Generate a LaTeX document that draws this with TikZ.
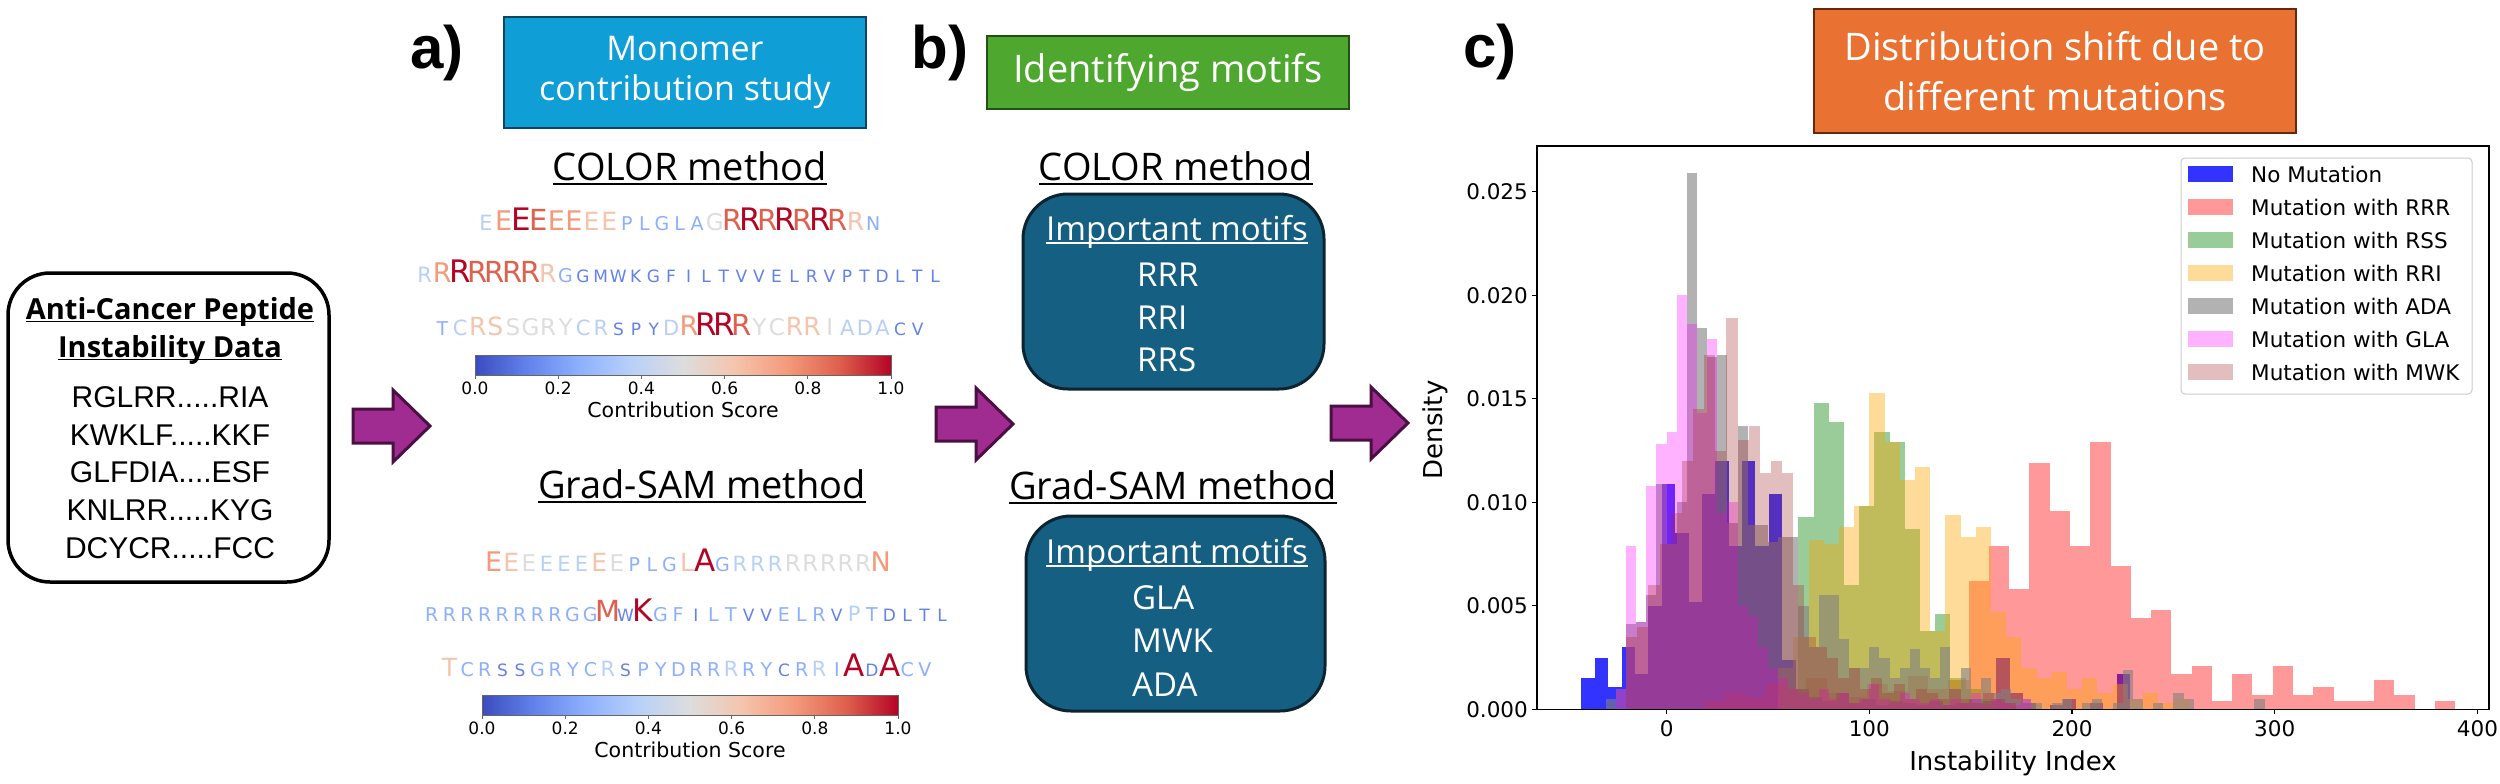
\documentclass[tikz,border=0pt]{standalone}
\usepackage{fontspec}
\setmainfont{Open Sans}
\newfontfamily\plotfont{DejaVu Sans}
\newfontfamily\arialfont{Liberation Sans}
\usepackage{tikz}
\usetikzlibrary{positioning}
% coolwarm colour map, nine stops
\definecolor{cw0}{RGB}{59,76,192}
\definecolor{cw1}{RGB}{98,130,234}
\definecolor{cw2}{RGB}{141,176,254}
\definecolor{cw3}{RGB}{184,208,249}
\definecolor{cw4}{RGB}{221,221,221}
\definecolor{cw5}{RGB}{245,196,173}
\definecolor{cw6}{RGB}{244,154,123}
\definecolor{cw7}{RGB}{222,96,77}
\definecolor{cw8}{RGB}{180,4,38}
\definecolor{boxblue}{RGB}{15,158,213}
\definecolor{boxblueedge}{RGB}{10,70,95}
\definecolor{boxgreen}{RGB}{78,167,46}
\definecolor{boxgreenedge}{RGB}{35,80,20}
\definecolor{boxorange}{RGB}{233,113,50}
\definecolor{boxorangeedge}{RGB}{100,40,10}
\definecolor{motifblue}{RGB}{21,96,130}
\definecolor{motifedge}{RGB}{12,35,48}
\definecolor{arrowfill}{RGB}{160,43,145}
\definecolor{arrowedge}{RGB}{74,16,66}
\definecolor{mplblue}{RGB}{0,0,255}
\definecolor{mplred}{RGB}{255,0,0}
\definecolor{mplgreen}{RGB}{0,128,0}
\definecolor{mplorange}{RGB}{255,165,0}
\definecolor{mplgray}{RGB}{128,128,128}
\definecolor{mplmagenta}{RGB}{255,0,255}
\definecolor{mplbrown}{RGB}{165,42,42}
\pgfdeclarehorizontalshading{coolwarm}{100bp}{color(0bp)=(cw0); color(25bp)=(cw0);
  color(31.25bp)=(cw1); color(37.5bp)=(cw2); color(43.75bp)=(cw3); color(50bp)=(cw4);
  color(56.25bp)=(cw5); color(62.5bp)=(cw6); color(68.75bp)=(cw7); color(75bp)=(cw8);
  color(100bp)=(cw8)}
\newcommand{\uln}[1]{\setbox0=\hbox{#1}\rlap{\rule[-0.12em]{\wd0}{0.045em}}\box0}
% one residue per slot, size and colour from its score level
\newcommand{\seqline}[4]{%
  \foreach \c/\s [count=\i from 0, evaluate=\s as \fs using 15+2*\s] in {#4}
    {\node[seqchar, text=cw\s, font={\plotfont\fontsize{\fs}{\fs}\selectfont}] (#1-\i) at ({#2+\i*17.6},#3) {\c};}}
\newcommand{\histbars}[4]{%
  \foreach \h [count=\i from 0] in {#4}
    {\fill[#1] ({#2+\i*#3},0) rectangle ++(#3,\h);}}
\tikzset{
  tagtext/.style={anchor=base, inner sep=0, font=\arialfont\bfseries\fontsize{60}{60}\selectfont},
  headbox/.style={rectangle, line width=2.5pt, text=white, align=center, inner sep=0},
  methodhead/.style={anchor=base, inner sep=0, font=\fontsize{38}{44}\selectfont},
  databox/.style={rectangle, draw=black, line width=3.5pt, rounded corners=42pt, fill=white},
  datatitle/.style={anchor=base, inner sep=0, font=\bfseries\fontsize{29}{34}\selectfont},
  rawseq/.style={anchor=base, inner sep=0, font=\arialfont\fontsize{30}{34}\selectfont},
  seqchar/.style={anchor=base, inner sep=0},
  motifbox/.style={rectangle, draw=motifedge, fill=motifblue, line width=3pt, rounded corners=45pt},
  motiftitle/.style={anchor=base, inner sep=0, text=white, font=\fontsize{33}{40}\selectfont},
  motifitem/.style={anchor=west, inner sep=0, text=white, font=\fontsize{33}{40}\selectfont},
  arrowbody/.style={fill=arrowfill, draw=arrowedge, line width=3pt, line join=miter},
  fatarrow/.pic={\draw[arrowbody] (0,-17) -- (40,-17) -- (40,-36) -- (77,0) -- (40,36) -- (40,17) -- (0,17) -- cycle;},
  cbframe/.style={draw=black!60, line width=1pt},
  cbtick/.style={anchor=north, inner sep=0, font=\plotfont\fontsize{17}{20}\selectfont},
  cblabel/.style={inner sep=0, font=\plotfont\fontsize{20.5}{24}\selectfont}
}
\begin{document}
\begin{tikzpicture}[x=1pt, y=-1pt,
  axisframe/.style={draw=black, line width=1.2pt},
  axtick/.style={inner sep=0, font=\plotfont\fontsize{21.5}{24}\selectfont},
  axlabel/.style={inner sep=0, font=\plotfont\fontsize{26}{30}\selectfont},
  legtext/.style={anchor=west, inner sep=0, font=\plotfont\fontsize{21.5}{24}\selectfont},
  hblue/.style={fill=mplblue, fill opacity=0.8},
  hred/.style={fill=mplred, fill opacity=0.4},
  hgreen/.style={fill=mplgreen, fill opacity=0.4},
  horange/.style={fill=mplorange, fill opacity=0.4},
  hgray/.style={fill=mplgray, fill opacity=0.6},
  hmagenta/.style={fill=mplmagenta, fill opacity=0.3},
  hbrown/.style={fill=mplbrown, fill opacity=0.3}
]
\fill[white] (0,0) rectangle (2500,784);
\useasboundingbox (0,0) rectangle (2500,784);

% Input data
\node[databox, minimum width=321, minimum height=309] (data) at (168.5,427.5) {};
\node[datatitle] (dt1) at (170,319) {\uln{Anti-Cancer Peptide}};
\node[datatitle] (dt2) at (170,357) {\uln{Instability Data}};
\node[rawseq] (raw-1) at (170,407.5) {RGLRR.....RIA};
\node[rawseq] (raw-2) at (170,445.2) {KWKLF.....KKF};
\node[rawseq] (raw-3) at (170,482.9) {GLFDIA....ESF};
\node[rawseq] (raw-4) at (170,520.6) {KNLRR.....KYG};
\node[rawseq] (raw-5) at (170,558.3) {DCYCR.....FCC};

% Arrows
\pic at (353,426) {fatarrow};
\pic at (936,424) {fatarrow};
\pic at (1331,423) {fatarrow};

% Panel a
\node[tagtext] (taga) at (437,68) {a)};
\node[headbox, fill=boxblue, draw=boxblueedge, minimum width=362, minimum height=111,
  font=\fontsize{34}{40}\selectfont] (hda) at (685,72.5) {Monomer\\contribution study};
\node[methodhead] (colA) at (690,180) {\uln{COLOR method}};
\seqline{cA}{486}{230}{E/3,E/6,E/8,E/7,E/6,E/6,E/5,E/5,P/2,L/2,G/2,L/2,A/2,G/4,R/7,R/8,R/7,R/8,R/7,R/8,R/7,R/5,N/2}
\seqline{cB}{424.6}{282}{R/3,R/6,R/8,R/7,R/7,R/7,R/7,R/5,G/2,G/1,M/1,W/1,K/1,G/1,F/1,I/1,L/1,T/1,V/1,V/1,E/1,L/1,R/1,V/1,P/1,T/1,D/1,L/1,T/1,L/1}
\seqline{cC}{442.5}{335}{T/2,C/3,R/5,S/5,S/4,G/4,R/4,Y/4,C/3,R/3,S/1,P/1,Y/1,D/3,R/6,R/8,R/8,R/7,Y/4,C/4,R/5,R/5,I/4,A/3,D/3,A/3,C/1,V/1}
\node[methodhead] (gsA) at (702,498) {\uln{Grad-SAM method}};
\seqline{gA}{493.6}{571}{E/6,E/5,E/4,E/3,E/3,E/3,E/5,E/4,P/2,L/2,G/2,L/5,A/8,G/2,R/3,R/3,R/3,R/4,R/4,R/4,R/4,R/4,N/6}
\seqline{gB}{431.8}{621}{R/2,R/2,R/2,R/2,R/2,R/2,R/2,R/2,G/2,G/2,M/7,W/1,K/8,G/2,F/2,I/1,L/2,T/2,V/1,V/1,E/2,L/2,R/2,V/1,P/3,T/2,D/1,L/1,T/1,L/1}
\seqline{gC}{449.6}{676}{T/5,C/2,R/2,S/1,S/1,G/2,R/2,Y/2,C/2,R/3,S/1,P/2,Y/2,D/2,R/2,R/2,R/3,R/2,Y/2,C/1,R/2,R/3,I/2,A/8,D/1,A/8,C/2,V/2}

% Colour bars
\foreach \bx/\by/\nm in {475/355/cbA,482/695/cbB}{
  \shade[shading=coolwarm] (\bx,\by) rectangle ++(416,20);
  \draw[cbframe] (\bx,\by) rectangle ++(416,20);
  \foreach \t [count=\k from 0] in {0.0,0.2,0.4,0.6,0.8,1.0}{
    \draw[cbframe] ({\bx+416*\t},\by+20) -- ++(0,4);
    \node[cbtick] (\nm-\k) at ({\bx+416*\t},\by+27) {\t};
  }
  \node[cblabel] (\nm-label) at (\bx+208,\by+55) {Contribution Score};
}

% Panel b
\node[tagtext] (tagb) at (940,68) {b)};
\node[headbox, fill=boxgreen, draw=boxgreenedge, minimum width=362, minimum height=73,
  font=\fontsize{38}{44}\selectfont] (hdb) at (1168,72.5) {Identifying motifs};
\node[methodhead] (colB) at (1176,180) {\uln{COLOR method}};
\node[motifbox, minimum width=301, minimum height=195] (mbA) at (1173.5,291.5) {};
\node[motiftitle] (mtA) at (1177,240) {\uln{Important motifs}};
\node[motifitem] (mA-1) at (1137,275) {RRR};
\node[motifitem] (mA-2) at (1137,318) {RRI};
\node[motifitem] (mA-3) at (1137,360) {RRS};
\node[methodhead] (gsB) at (1173,499) {\uln{Grad-SAM method}};
\node[motifbox, minimum width=299, minimum height=195] (mbB) at (1175.5,613.5) {};
\node[motiftitle] (mtB) at (1177,563) {\uln{Important motifs}};
\node[motifitem] (mB-1) at (1132,598) {GLA};
\node[motifitem] (mB-2) at (1132,641) {MWK};
\node[motifitem] (mB-3) at (1132,685) {ADA};

% Panel c
\node[tagtext] (tagc) at (1490,67) {c)};
\node[headbox, fill=boxorange, draw=boxorangeedge, minimum width=482, minimum height=124,
  font=\fontsize{38}{50}\selectfont] (hdc) at (2055,71) {Distribution shift due to\\different mutations};

\begin{scope}[shift={(1666.6,709.3)}, x=2.027pt, y=20.7pt]
\histbars{hblue}{-42}{6.6}{1.5,2.5,1.1,3.0,1.7,5.0,10.9,8.5,5.2,10.4,12.0,7.9,12.0,7.9,10.4,2.4,1.0,0.6,0.4,0.8,0.3,0.5,0.2,0.4,0.3,0.2,0.4,0.2,0.3,0.5,0.4,2.5,0.8,0.3,0,0.2,0.5,0,0.3,0,1.7}
\histbars{hred}{19}{10}{0.4,0.8,0.6,1.2,1.0,1.5,0.8,0.6,1.2,0.9,1.6,1.0,1.4}
\histbars{hred}{149}{10}{6.2,7.9,5.8,11.9,9.6,7.9,12.9,6.9,4.4,4.8,1.7,2.1,0.4,1.7,0.7,2.1,0.7,1.1,0.4,0.4,1.4,0.7,0,0.4}
\histbars{hgreen}{57.5}{7.5}{1.0,9.3,14.8,13.9,6.0,9.8,13.4,12.9,8.7,3.8,4.6,1.5,1.0,0.5}
\histbars{horange}{55}{7.5}{2.0,3.5,8.2,8.0,8.8,9.8,15.3,12.9,11.1,11.7,3.8,9.4,8.3,8.8,4.7,3.5,2.0,1.5,1.8,1.0,1.5,0.8,1.2,0.5,0.8,0.3,0.5}
\histbars{hgray}{-30}{5}{0.5,1.0,4.1,4.2,5.5,10.9,8.0,10.0,25.9,18.4,17.0,17.1,9.0,13.7,8.9,8.9,8.1,8.3,8.3,5.0,3.0,5.5,5.5,3.4,2.0,2.0,3.0,2.5,1.5,2.0,2.9,2.0,1.5,3.0,1.0,2.0,0.5,1.5,0.8,1.0,0.5,0.5,0.3,0,0.3,0.5,0,0.3,0.5,0,0.3,1.9,0.5,0,0.3,0,0.8,0.5,0,0,0,0,0,0,0.5}
\histbars{hmagenta}{-25}{5}{1.0,7.9,4.2,10.8,12.8,13.4,20.0,18.6,14.3,17.9,9.5,10.0,5.0,4.5,3.0,2.0,1.5,1.0,0.8,0.5,1.0,0.5,0.8,0.3,0.5,1.2,0.5,0.3,0.8,0.5,0.3,0.5,0.2,0.5,0.3,0.8,0.2,0.5,0.3,0.2,0.5}
\histbars{hbrown}{-20}{5.5}{3.5,4.0,6.0,8.0,9.5,12.0,14.5,17.1,12.5,18.9,13.0,13.7,11.4,12.0,11.4,6.0,3.5,3.0,2.5,1.5,2.0,1.0,1.5,0.8,1.2,0.5,1.0,0.8,0.5,1.0,0.5,0.3,0.8,0.5,0.3}
\end{scope}

% Axes and ticks
\draw[axisframe] (1537,146) rectangle (2489,709.3);
\foreach \v in {0,100,200,300,400}{
  \draw[axisframe] ({1666.6+2.027*\v},709.3) -- ++(0,5);
  \node[axtick, anchor=north] (xt-\v) at ({1666.6+2.027*\v},720) {\v};
}
\foreach \d/\lab in {0/0.000,5/0.005,10/0.010,15/0.015,20/0.020,25/0.025}{
  \draw[axisframe] (1537,{709.3-20.7*\d}) -- ++(-5,0);
  \node[axtick, anchor=east] (yt-\d) at (1528,{709.3-20.7*\d}) {\lab};
}
\node[axlabel] (xlab) at (2013,763) {Instability Index};
\node[axlabel, rotate=90] (ylab) at (1435,430) {Density};

% Legend
\draw[draw=black!20, fill=white, fill opacity=0.8, rounded corners=4pt, line width=1pt] (2181,158) rectangle (2472,394);
\fill[hblue] (2188,166) rectangle (2233,182);    \node[legtext] (lg-1) at (2251,174) {No Mutation};
\fill[hred] (2188,199) rectangle (2233,215);     \node[legtext] (lg-2) at (2251,207) {Mutation with RRR};
\fill[hgreen] (2188,232) rectangle (2233,248);   \node[legtext] (lg-3) at (2251,240) {Mutation with RSS};
\fill[horange] (2188,265) rectangle (2233,281);  \node[legtext] (lg-4) at (2251,273) {Mutation with RRI};
\fill[hgray] (2188,298) rectangle (2233,314);    \node[legtext] (lg-5) at (2251,306) {Mutation with ADA};
\fill[hmagenta] (2188,331) rectangle (2233,347); \node[legtext] (lg-6) at (2251,339) {Mutation with GLA};
\fill[hbrown] (2188,364) rectangle (2233,380);   \node[legtext] (lg-7) at (2251,372) {Mutation with MWK};

\end{tikzpicture}
\end{document}
